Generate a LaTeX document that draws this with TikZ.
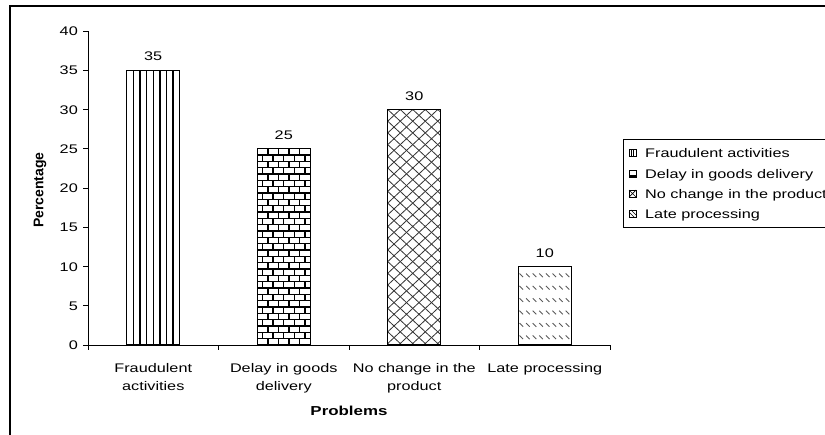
\documentclass[tikz,border=0pt]{standalone}
\usepackage{fontspec}
\setmainfont{Liberation Sans}[FakeStretch=1.3]
\newfontfamily\plainsans{Liberation Sans}
\begin{document}
\begin{tikzpicture}[x=1pt,y=-1pt,
  lbl/.style={font=\fontsize{12.5}{18.5}\selectfont, inner sep=0pt},
  axisline/.style={line width=1pt, black},
  barframe/.style={line width=1.2pt, black},
  vline/.style={line width=1.3pt, black},
  brick/.style={line width=1.4pt, black},
  hatch/.style={line width=0.8pt, black!80},
  dashy/.style={line width=0.9pt, black!65},
  legsym/.style={line width=0.7pt, black}]
\useasboundingbox (0,0) rectangle (825,434);
\clip (0,0) rectangle (825,434);

% outer frame (open to the right and bottom)
\draw[line width=1.2pt] (10,440) -- (10,6) -- (830,6);

% ---- bar 1: vertical lines
\begin{scope}
  \clip (126.75,70.25) rectangle (179.75,345);
  \foreach \k in {1,...,7}
    \draw[vline] ({126.75+\k*6.625},70.25) -- ++(0,275);
\end{scope}
\draw[barframe] (126.75,345) rectangle (179.75,70.25);

% ---- bar 2: bricks
\begin{scope}
  \clip (257.25,148.75) rectangle (310.25,345);
  \foreach \r in {1,...,30}
    \draw[brick] (257.25,{345-\r*6.33}) -- ++(53,0);
  \foreach \r in {0,...,30}{
    \pgfmathsetmacro\off{mod(\r,2)*5.3}
    \foreach \j in {0,...,5}
      \draw[brick] ({257.25+\off+\j*10.6},{345-\r*6.33}) -- ++(0,-6.33);
  }
\end{scope}
\draw[barframe] (257.25,345) rectangle (310.25,148.75);

% ---- bar 3: diagonal crosshatch
\begin{scope}
  \clip (387.75,109.5) rectangle (440.75,345);
  \foreach \k in {-25,...,25}{
    \draw[hatch] ({387.75+\k*12.5},109.5) -- ++(300,280.8);
    \draw[hatch] ({387.75+\k*12.5},109.5) -- ++(-300,280.8);
  }
\end{scope}
\draw[barframe] (387.75,345) rectangle (440.75,109.5);

% ---- bar 4: dashed downward diagonals
\begin{scope}
  \clip (518.25,266.5) rectangle (571.25,345);
  \foreach \r in {0,...,5}
    \foreach \j in {0,...,7}
      \draw[dashy] ({519.5+\j*6.6},{345-7.7-\r*12.4-1.8}) -- ++(3.6,3.6);
\end{scope}
\draw[barframe] (518.25,345) rectangle (571.25,266.5);

% ---- axes
\draw[axisline] (88,31) -- (88,345) -- (610,345);
\foreach \v in {0,5,...,40}{
  \draw[axisline] (83,{345-\v*7.85}) -- (88,{345-\v*7.85});
  \node[lbl, anchor=base east] (t\v) at (78,{345-\v*7.85+4.5}) {\v};
}
\foreach \i in {0,...,4}
  \draw[axisline] ({88+\i*130.5},345) -- ({88+\i*130.5},350);

% ---- value labels
\node[lbl, anchor=base] (v1) at (153.25,60.5) {35};
\node[lbl, anchor=base] (v2) at (283.75,139.25) {25};
\node[lbl, anchor=base] (v3) at (414.25,100) {30};
\node[lbl, anchor=base] (v4) at (544.75,257) {10};

% ---- category labels
\node[lbl, align=center, anchor=north] (c1) at (153.25,363) {Fraudulent\\activities};
\node[lbl, align=center, anchor=north] (c2) at (283.75,363) {Delay in goods\\delivery};
\node[lbl, align=center, anchor=north] (c3) at (414.25,363) {No change in the\\product};
\node[lbl, align=center, anchor=north] (c4) at (544.75,363) {Late processing};

% ---- axis titles
\node[inner sep=0pt, font=\fontsize{13}{15}\selectfont\bfseries] (xt) at (349,411) {Problems};
\node[inner sep=0pt, rotate=90, font=\plainsans\fontsize{14}{16}\selectfont\bfseries] (yt) at (40,190) {Percentage};

% ---- legend
\draw[line width=0.9pt] (623,139) rectangle (845,227);
% symbol 1: vertical lines
\draw[legsym] (629,149.5) rectangle (636,156.5);
\draw[legsym] (631.3,149.5) -- (631.3,156.5) (633.7,149.5) -- (633.7,156.5);
% symbol 2: brick
\draw[legsym] (629,170) rectangle (636,177);
\fill[black] (629,174.5) rectangle (636,177);
% symbol 3: cross
\draw[legsym] (629,190) rectangle (636,197);
\draw[legsym] (629,190) -- (636,197) (636,190) -- (629,197);
% symbol 4: diagonals
\draw[legsym] (629,210) rectangle (636,217);
\draw[legsym] (629,212) -- (634,217) (631,210) -- (636,215);
\node[lbl, anchor=base west] (l1) at (645,157.5) {Fraudulent activities};
\node[lbl, anchor=base west] (l2) at (645,178) {Delay in goods delivery};
\node[lbl, anchor=base west] (l3) at (645,198) {No change in the product};
\node[lbl, anchor=base west] (l4) at (645,218) {Late processing};
\end{tikzpicture}
\end{document}
